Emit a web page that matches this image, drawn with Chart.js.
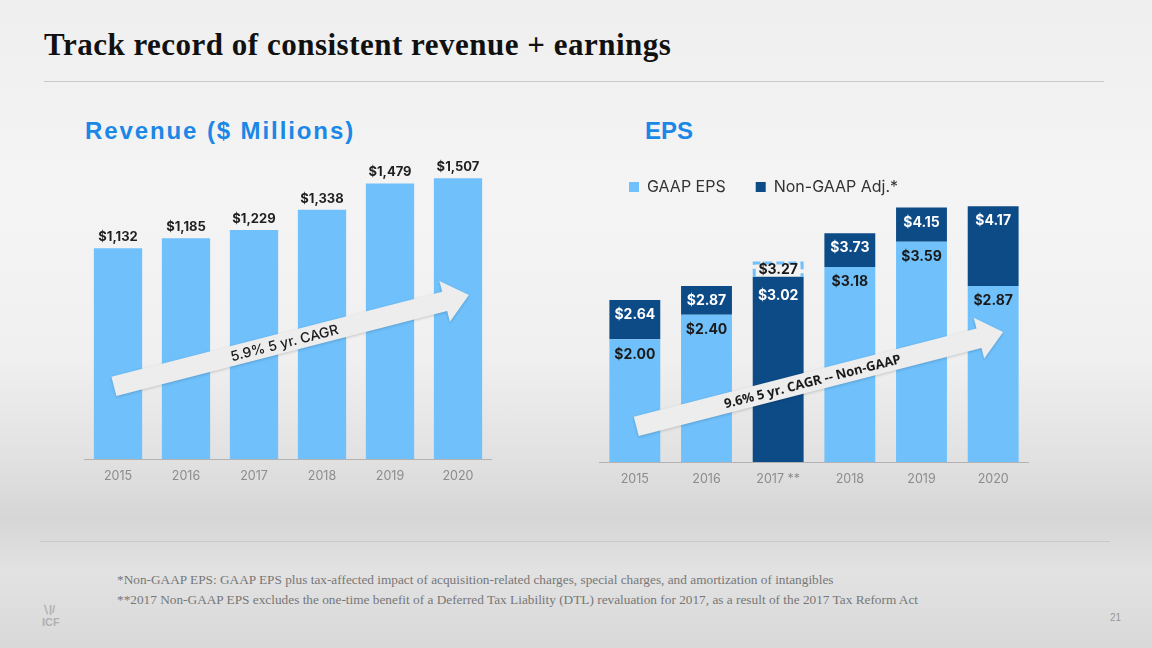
<!DOCTYPE html>
<html>
<head>
<meta charset="utf-8">
<script src="https://cdn.jsdelivr.net/npm/chart.js@4.4.1/dist/chart.umd.min.js"></script>
<style>
  body {
    margin: 0; width: 1152px; height: 648px; overflow: hidden; position: relative;
    font-family: Inter, sans-serif;
    background: linear-gradient(to bottom, #efefef 0%, #f4f4f4 30%, #f0f0f0 55%, #e2e2e2 70%, #d6d6d6 80%, #e2e2e2 88%, #d9d9d9 100%);
  }
  .abs { position: absolute; }
  #title { left: 44px; top: 27px; font: bold 31px "Liberation Serif", serif; letter-spacing: 0.5px; color: #111; white-space: nowrap; }
  .rule { height: 1px; background: #c9c9c9; }
  .heading { font: bold 24px "Liberation Sans", Arial, sans-serif; color: #1b87e6; white-space: nowrap; }
  .note { left: 117px; font: 13.3px "Liberation Serif", serif; color: #777; white-space: nowrap; }
  #logo { left: 42px; top: 603px; font: bold 11px "Liberation Sans", sans-serif; color: #b0b0b0; }
  #page { left: 1110px; top: 612px; font: 10px "Liberation Sans", sans-serif; color: #999; }
  canvas { position: absolute; }
</style>
</head>
<body>
<div id="title" class="abs">Track record of consistent revenue + earnings</div>
<div class="abs rule" style="left:44px;top:81px;width:1060px"></div>
<div class="abs heading" style="left:85px;top:117px;letter-spacing:1.9px">Revenue ($ Millions)</div>
<div class="abs heading" style="left:645px;top:117px">EPS</div>

<canvas id="revenueChart" width="408" height="344" style="left:84px;top:150px"></canvas>
<canvas id="epsChart" width="430" height="348" style="left:599px;top:149px"></canvas>

<div class="abs rule" style="left:40px;top:541px;width:1070px"></div>
<div class="abs note" style="top:572px">*Non-GAAP EPS: GAAP EPS plus tax-affected impact of acquisition-related charges, special charges, and amortization of intangibles</div>
<div class="abs note" style="top:592px">**2017 Non-GAAP EPS excludes the one-time benefit of a Deferred Tax Liability (DTL) revaluation for 2017, as a result of the 2017 Tax Reform Act</div>
<div id="logo" class="abs">&#8726;|/<br>ICF</div>
<div id="page" class="abs">21</div>

<script>
// ---- data ----
const years = ['2015', '2016', '2017', '2018', '2019', '2020'];
const epsYears = ['2015', '2016', '2017 **', '2018', '2019', '2020'];
const revenue = [1132, 1185, 1229, 1338, 1479, 1507];
const gaapEps = [2.00, 2.40, 3.27, 3.18, 3.59, 2.87];
const nonGaapEps = [2.64, 2.87, 3.02, 3.73, 4.15, 4.17];
const revenueCagr = '5.9% 5 yr. CAGR';
const epsCagr = '9.6% 5 yr. CAGR -- Non-GAAP';

const LIGHT = '#6fc0fb';
const DARK = '#0d4b87';

Chart.defaults.font.family = 'Inter, sans-serif';
Chart.defaults.animation = false;

// stacked pieces: GAAP under the non-GAAP total, except 2017 where GAAP is higher
const gaapPart = gaapEps.map((g, i) => g <= nonGaapEps[i] ? g : 0);
const adjPart = nonGaapEps.map((n, i) => +(n - gaapPart[i]).toFixed(2));
const gaapExcess = gaapEps.map((g, i) => g > nonGaapEps[i] ? +(g - nonGaapEps[i]).toFixed(2) : null);

function drawArrow(ctx, x0, y0, x1, y1, text, font) {
  const ang = Math.atan2(y1 - y0, x1 - x0);
  const len = Math.hypot(x1 - x0, y1 - y0);
  const body = 10, head = 21, headLen = 25;
  ctx.save();
  ctx.translate(x0, y0);
  ctx.rotate(ang);
  ctx.shadowColor = 'rgba(0,0,0,0.18)';
  ctx.shadowBlur = 3;
  ctx.shadowOffsetY = 1;
  ctx.fillStyle = '#ededed';
  ctx.beginPath();
  ctx.moveTo(0, -body);
  ctx.lineTo(len - headLen, -body);
  ctx.lineTo(len - headLen, -head);
  ctx.lineTo(len, 0);
  ctx.lineTo(len - headLen, head);
  ctx.lineTo(len - headLen, body);
  ctx.lineTo(0, body);
  ctx.closePath();
  ctx.fill();
  ctx.shadowColor = 'transparent';
  ctx.fillStyle = '#1a1a1a';
  ctx.font = font;
  ctx.textAlign = 'center';
  ctx.textBaseline = 'middle';
  ctx.fillText(text, len * 0.48, 1);
  ctx.restore();
}

const xAxis = () => ({
  grid: { display: false, drawTicks: false },
  border: { display: true, color: '#b3b3b3', width: 1 },
  ticks: { color: '#8c8c8c', font: { size: 12.5 }, padding: 10 }
});

// ---- revenue chart ----
const revenueDecor = {
  id: 'revenueDecor',
  afterDatasetsDraw(chart) {
    const { ctx, scales: { x, y } } = chart;
    drawArrow(ctx, x.getPixelForValue(-0.06), y.getPixelForValue(390),
      x.getPixelForValue(5.16), y.getPixelForValue(880), revenueCagr, '500 14px Inter');
    ctx.save();
    ctx.font = 'bold 13px Inter';
    ctx.fillStyle = '#1f1f1f';
    ctx.textAlign = 'center';
    ctx.textBaseline = 'middle';
    chart.getDatasetMeta(0).data.forEach((bar, i) => {
      ctx.fillText('$' + revenue[i].toLocaleString('en-US'), bar.x, bar.y - 11);
    });
    ctx.restore();
  }
};

new Chart(document.getElementById('revenueChart'), {
  type: 'bar',
  data: {
    labels: years,
    datasets: [{ label: 'Revenue', data: revenue, backgroundColor: LIGHT,
      categoryPercentage: 1, barPercentage: 0.71 }]
  },
  options: {
    responsive: false,
    maintainAspectRatio: false,
    layout: { padding: { top: 11 } },
    plugins: { legend: { display: false }, tooltip: { enabled: false } },
    scales: {
      x: xAxis(),
      y: { display: false, min: 0, max: 1600 }
    }
  },
  plugins: [revenueDecor]
});

// ---- EPS chart ----
const epsDecor = {
  id: 'epsDecor',
  afterDatasetsDraw(chart) {
    const { ctx, scales: { x, y } } = chart;
    // dashed outline for GAAP above non-GAAP (2017)
    ctx.save();
    ctx.strokeStyle = LIGHT;
    ctx.lineWidth = 3;
    ctx.setLineDash([8, 4]);
    chart.getDatasetMeta(2).data.forEach((el, i) => {
      if (gaapExcess[i] == null) return;
      const { x: cx, y: top, base, width } = el.getProps(['x', 'y', 'base', 'width'], true);
      ctx.beginPath();
      ctx.moveTo(cx - width / 2 + 1.5, base);
      ctx.lineTo(cx - width / 2 + 1.5, top + 1.5);
      ctx.lineTo(cx + width / 2 - 1.5, top + 1.5);
      ctx.lineTo(cx + width / 2 - 1.5, base);
      ctx.stroke();
    });
    ctx.restore();

    drawArrow(ctx, x.getPixelForValue(0.02), y.getPixelForValue(0.58),
      x.getPixelForValue(5.14), y.getPixelForValue(2.12), epsCagr, 'bold 13px "Open Sans"');

    ctx.save();
    ctx.font = 'bold 14px Inter';
    ctx.textAlign = 'center';
    ctx.textBaseline = 'middle';
    const gaapMeta = chart.getDatasetMeta(0).data;
    const adjMeta = chart.getDatasetMeta(1).data;
    const excessMeta = chart.getDatasetMeta(2).data;
    years.forEach((_, i) => {
      ctx.fillStyle = '#ffffff';
      const above = gaapPart[i] === 0;
      ctx.fillText('$' + nonGaapEps[i].toFixed(2), adjMeta[i].x, adjMeta[i].y + (above ? 19 : 15));
      ctx.fillStyle = '#1a1a1a';
      if (!above) {
        ctx.fillText('$' + gaapEps[i].toFixed(2), gaapMeta[i].x, gaapMeta[i].y + 15);
      } else {
        const el = excessMeta[i];
        ctx.fillText('$' + gaapEps[i].toFixed(2), el.x, (el.y + el.base) / 2 + 1);
      }
    });
    ctx.restore();
  }
};

new Chart(document.getElementById('epsChart'), {
  type: 'bar',
  data: {
    labels: epsYears,
    datasets: [
      { label: 'GAAP EPS', data: gaapPart, backgroundColor: LIGHT, categoryPercentage: 1, barPercentage: 0.71 },
      { label: 'Non-GAAP Adj.*', data: adjPart, backgroundColor: DARK, categoryPercentage: 1, barPercentage: 0.71 },
      { label: 'GAAP above Non-GAAP', data: gaapExcess, backgroundColor: 'rgba(0,0,0,0)', categoryPercentage: 1, barPercentage: 0.71 }
    ]
  },
  options: {
    responsive: false,
    maintainAspectRatio: false,
    plugins: {
      tooltip: { enabled: false },
      legend: {
        align: 'start',
        labels: {
          boxWidth: 10, boxHeight: 10, padding: 30, color: '#333',
          font: { size: 16 },
          filter: item => item.datasetIndex < 2
        }
      }
    },
    scales: {
      x: { ...xAxis(), stacked: true },
      y: { display: false, stacked: true, min: 0, max: 4.19 }
    }
  },
  plugins: [epsDecor]
});
</script>
</body>
</html>
